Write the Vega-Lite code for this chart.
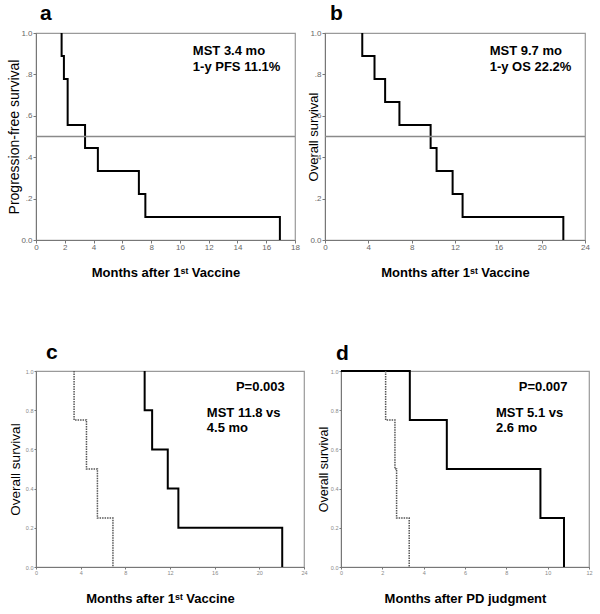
{
  "$schema": "https://vega.github.io/schema/vega-lite/v6.json",
  "background": "white",
  "padding": {"left": 6, "top": 2, "right": 0, "bottom": 0},
  "config": {
    "font": "Liberation Sans",
    "view": {"stroke": "#9a9a9a", "strokeWidth": 1.2},
    "axis": {"grid": false, "domainColor": "#777", "tickColor": "#777", "tickSize": 3, "labelColor": "#666", "labelFont": "Liberation Sans", "labelOverlap": false, "labelBound": false, "labelFlush": false, "titleColor": "#000", "titleFont": "Liberation Sans", "titleBaseline": "middle"},
    "title": {"font": "Liberation Sans", "fontSize": 21, "fontWeight": "bold", "anchor": "start", "frame": "group", "baseline": "alphabetic", "color": "#000"}
  },
  "datasets": {
    "km": [
      {"panel": "a", "group": "all", "i": 0, "t": 1.78, "s": 1.0},
      {"panel": "a", "group": "all", "i": 1, "t": 1.78, "s": 0.889},
      {"panel": "a", "group": "all", "i": 2, "t": 1.94, "s": 0.778},
      {"panel": "a", "group": "all", "i": 3, "t": 2.2, "s": 0.556},
      {"panel": "a", "group": "all", "i": 4, "t": 3.41, "s": 0.444},
      {"panel": "a", "group": "all", "i": 5, "t": 4.3, "s": 0.333},
      {"panel": "a", "group": "all", "i": 6, "t": 7.15, "s": 0.222},
      {"panel": "a", "group": "all", "i": 7, "t": 7.6, "s": 0.111},
      {"panel": "a", "group": "all", "i": 8, "t": 16.95, "s": 0.0},
      {"panel": "b", "group": "all", "i": 0, "t": 3.44, "s": 1.0},
      {"panel": "b", "group": "all", "i": 1, "t": 3.44, "s": 0.889},
      {"panel": "b", "group": "all", "i": 2, "t": 4.57, "s": 0.778},
      {"panel": "b", "group": "all", "i": 3, "t": 5.55, "s": 0.667},
      {"panel": "b", "group": "all", "i": 4, "t": 6.87, "s": 0.556},
      {"panel": "b", "group": "all", "i": 5, "t": 9.75, "s": 0.444},
      {"panel": "b", "group": "all", "i": 6, "t": 10.3, "s": 0.333},
      {"panel": "b", "group": "all", "i": 7, "t": 11.78, "s": 0.222},
      {"panel": "b", "group": "all", "i": 8, "t": 12.7, "s": 0.111},
      {"panel": "b", "group": "all", "i": 9, "t": 22.0, "s": 0.0},
      {"panel": "c", "group": "solid", "i": 0, "t": 9.73, "s": 1.0},
      {"panel": "c", "group": "solid", "i": 1, "t": 9.73, "s": 0.8},
      {"panel": "c", "group": "solid", "i": 2, "t": 10.4, "s": 0.6},
      {"panel": "c", "group": "solid", "i": 3, "t": 11.8, "s": 0.4},
      {"panel": "c", "group": "solid", "i": 4, "t": 12.75, "s": 0.2},
      {"panel": "c", "group": "solid", "i": 5, "t": 22.05, "s": 0.0},
      {"panel": "c", "group": "dotted", "i": 0, "t": 3.41, "s": 1.0},
      {"panel": "c", "group": "dotted", "i": 1, "t": 3.41, "s": 0.75},
      {"panel": "c", "group": "dotted", "i": 2, "t": 4.52, "s": 0.5},
      {"panel": "c", "group": "dotted", "i": 3, "t": 5.5, "s": 0.25},
      {"panel": "c", "group": "dotted", "i": 4, "t": 6.89, "s": 0.0},
      {"panel": "d", "group": "solid", "i": 0, "t": 0.0, "s": 1.0},
      {"panel": "d", "group": "solid", "i": 1, "t": 3.33, "s": 0.75},
      {"panel": "d", "group": "solid", "i": 2, "t": 5.12, "s": 0.5},
      {"panel": "d", "group": "solid", "i": 3, "t": 9.65, "s": 0.25},
      {"panel": "d", "group": "solid", "i": 4, "t": 10.79, "s": 0.0},
      {"panel": "d", "group": "dotted", "i": 0, "t": 2.16, "s": 1.0},
      {"panel": "d", "group": "dotted", "i": 1, "t": 2.16, "s": 0.75},
      {"panel": "d", "group": "dotted", "i": 2, "t": 2.61, "s": 0.5},
      {"panel": "d", "group": "dotted", "i": 3, "t": 2.69, "s": 0.25},
      {"panel": "d", "group": "dotted", "i": 4, "t": 3.3, "s": 0.0}
    ],
    "notes": [
      {"panel": "a", "x": 10.9, "y": 0.913, "label": "MST 3.4 mo"},
      {"panel": "a", "x": 10.9, "y": 0.836, "label": "1-y PFS 11.1%"},
      {"panel": "b", "x": 15.2, "y": 0.913, "label": "MST 9.7 mo"},
      {"panel": "b", "x": 15.2, "y": 0.836, "label": "1-y OS 22.2%"},
      {"panel": "c", "x": 17.9, "y": 0.918, "label": "P=0.003"},
      {"panel": "c", "x": 15.3, "y": 0.786, "label": "MST 11.8 vs"},
      {"panel": "c", "x": 15.3, "y": 0.709, "label": "4.5 mo"},
      {"panel": "d", "x": 8.6, "y": 0.918, "label": "P=0.007"},
      {"panel": "d", "x": 7.5, "y": 0.786, "label": "MST 5.1 vs"},
      {"panel": "d", "x": 7.5, "y": 0.709, "label": "2.6 mo"}
    ]
  },
  "bounds": "flush",
  "spacing": 338,
  "vconcat": [
    {
      "bounds": "flush",
      "spacing": 30,
      "hconcat": [
        {
          "width": 259, "height": 207,
          "title": {"text": "a", "dx": 4, "offset": 5},
          "layer": [
            {
              "data": {"name": "km"},
              "transform": [{"filter": "datum.panel == 'a'"}],
              "mark": {"type": "line", "interpolate": "step-after", "color": "#000", "strokeWidth": 2},
              "encoding": {
                "x": {"field": "t", "type": "quantitative", "scale": {"domain": [0, 18], "nice": false},
                  "axis": {"values": [0, 2, 4, 6, 8, 10, 12, 14, 16, 18], "format": "d", "labelOverlap": false, "labelFontSize": 8, "labelPadding": 0, "title": "Months after 1ˢᵗ  Vaccine", "titleFontSize": 13, "titleFontWeight": "bold", "titleY": 32}},
                "y": {"field": "s", "type": "quantitative", "scale": {"domain": [0, 1], "nice": false},
                  "axis": {"values": [0, 0.2, 0.4, 0.6, 0.8, 1], "labelOverlap": false, "labelExpr": "datum.value == 0 ? '0.0' : datum.value == 1 ? '1.0' : replace(format(datum.value, '.1f'), '0.', '.')", "labelFontSize": 8, "labelPadding": 1, "title": "Progression-free survival", "titleFontSize": 14, "titleFontWeight": "normal", "titleX": -22}},
                "order": {"field": "i", "type": "quantitative"}
              }
            },
            {
              "data": {"values": [{}]},
              "mark": {"type": "rule", "color": "#8a8a8a", "strokeWidth": 1.5},
              "encoding": {"y": {"datum": 0.5, "type": "quantitative",
                  "axis": {"values": [0, 0.2, 0.4, 0.6, 0.8, 1], "labelOverlap": false, "labelExpr": "datum.value == 0 ? '0.0' : datum.value == 1 ? '1.0' : replace(format(datum.value, '.1f'), '0.', '.')", "labelFontSize": 8, "labelPadding": 1, "title": "Progression-free survival", "titleFontSize": 14, "titleFontWeight": "normal", "titleX": -22}}}
            },
            {
              "data": {"name": "notes"},
              "transform": [{"filter": "datum.panel == 'a'"}],
              "mark": {"type": "text", "align": "left", "baseline": "middle", "fontSize": 13, "fontWeight": "bold", "color": "#000"},
              "encoding": {
                "x": {"field": "x", "type": "quantitative",
                  "axis": {"values": [0, 2, 4, 6, 8, 10, 12, 14, 16, 18], "format": "d", "labelOverlap": false, "labelFontSize": 8, "labelPadding": 0, "title": "Months after 1ˢᵗ  Vaccine", "titleFontSize": 13, "titleFontWeight": "bold", "titleY": 32}},
                "y": {"field": "y", "type": "quantitative",
                  "axis": {"values": [0, 0.2, 0.4, 0.6, 0.8, 1], "labelOverlap": false, "labelExpr": "datum.value == 0 ? '0.0' : datum.value == 1 ? '1.0' : replace(format(datum.value, '.1f'), '0.', '.')", "labelFontSize": 8, "labelPadding": 1, "title": "Progression-free survival", "titleFontSize": 14, "titleFontWeight": "normal", "titleX": -22}},
                "text": {"field": "label"}}
            }
          ]
        },
        {
          "width": 260, "height": 207,
          "title": {"text": "b", "dx": 5, "offset": 5},
          "layer": [
            {
              "data": {"name": "km"},
              "transform": [{"filter": "datum.panel == 'b'"}],
              "mark": {"type": "line", "interpolate": "step-after", "color": "#000", "strokeWidth": 2},
              "encoding": {
                "x": {"field": "t", "type": "quantitative", "scale": {"domain": [0, 24], "nice": false},
                  "axis": {"values": [0, 4, 8, 12, 16, 20, 24], "format": "d", "labelOverlap": false, "labelFontSize": 8, "labelPadding": 0, "title": "Months after 1ˢᵗ  Vaccine", "titleFontSize": 13, "titleFontWeight": "bold", "titleY": 32}},
                "y": {"field": "s", "type": "quantitative", "scale": {"domain": [0, 1], "nice": false},
                  "axis": {"values": [0, 0.2, 0.4, 0.6, 0.8, 1], "labelOverlap": false, "labelExpr": "datum.value == 0 ? '0.0' : datum.value == 1 ? '1.0' : replace(format(datum.value, '.1f'), '0.', '.')", "labelFontSize": 8, "labelPadding": 1, "title": "Overall survival", "titleFontSize": 13, "titleFontWeight": "normal", "titleX": -12}},
                "order": {"field": "i", "type": "quantitative"}
              }
            },
            {
              "data": {"values": [{}]},
              "mark": {"type": "rule", "color": "#8a8a8a", "strokeWidth": 1.5},
              "encoding": {"y": {"datum": 0.5, "type": "quantitative",
                  "axis": {"values": [0, 0.2, 0.4, 0.6, 0.8, 1], "labelOverlap": false, "labelExpr": "datum.value == 0 ? '0.0' : datum.value == 1 ? '1.0' : replace(format(datum.value, '.1f'), '0.', '.')", "labelFontSize": 8, "labelPadding": 1, "title": "Overall survival", "titleFontSize": 13, "titleFontWeight": "normal", "titleX": -12}}}
            },
            {
              "data": {"name": "notes"},
              "transform": [{"filter": "datum.panel == 'b'"}],
              "mark": {"type": "text", "align": "left", "baseline": "middle", "fontSize": 13, "fontWeight": "bold", "color": "#000"},
              "encoding": {
                "x": {"field": "x", "type": "quantitative",
                  "axis": {"values": [0, 4, 8, 12, 16, 20, 24], "format": "d", "labelOverlap": false, "labelFontSize": 8, "labelPadding": 0, "title": "Months after 1ˢᵗ  Vaccine", "titleFontSize": 13, "titleFontWeight": "bold", "titleY": 32}},
                "y": {"field": "y", "type": "quantitative",
                  "axis": {"values": [0, 0.2, 0.4, 0.6, 0.8, 1], "labelOverlap": false, "labelExpr": "datum.value == 0 ? '0.0' : datum.value == 1 ? '1.0' : replace(format(datum.value, '.1f'), '0.', '.')", "labelFontSize": 8, "labelPadding": 1, "title": "Overall survival", "titleFontSize": 13, "titleFontWeight": "normal", "titleX": -12}},
                "text": {"field": "label"}}
            }
          ]
        }
      ]
    },
    {
      "bounds": "flush",
      "spacing": 37,
      "hconcat": [
        {
          "width": 268, "height": 196,
          "title": {"text": "c", "dx": 10, "offset": 4},
          "layer": [
            {
              "data": {"name": "km"},
              "transform": [{"filter": "datum.panel == 'c'"}],
              "mark": {"type": "line", "interpolate": "step-after", "color": "#000"},
              "encoding": {
                "x": {"field": "t", "type": "quantitative", "scale": {"domain": [0, 24], "nice": false},
                  "axis": {"values": [0, 4, 8, 12, 16, 20, 24], "format": "d", "labelOverlap": false, "labelFontSize": 5.5, "labelColor": "#888", "labelPadding": 1, "tickSize": 2, "title": "Months after 1ˢᵗ  Vaccine", "titleFontSize": 13, "titleFontWeight": "bold", "titleY": 31, "titleX": 124}},
                "y": {"field": "s", "type": "quantitative", "scale": {"domain": [0, 1], "nice": false},
                  "axis": {"values": [0, 0.2, 0.4, 0.6, 0.8, 1], "format": ".1f", "labelOverlap": false, "labelFontSize": 5.5, "labelColor": "#888", "labelPadding": 1, "tickSize": 2, "title": "Overall survival", "titleFontSize": 13.5, "titleFontWeight": "normal", "titleX": -21}},
                "order": {"field": "i", "type": "quantitative"},
                "strokeDash": {"field": "group", "type": "nominal", "scale": {"domain": ["solid", "dotted"], "range": [[1, 0], [1.5, 1]]}, "legend": null},
                "strokeWidth": {"field": "group", "type": "nominal", "scale": {"domain": ["solid", "dotted"], "range": [2, 1.5]}, "legend": null},
                "color": {"field": "group", "type": "nominal", "scale": {"domain": ["solid", "dotted"], "range": ["#000", "#555"]}, "legend": null}
              }
            },
            {
              "data": {"name": "notes"},
              "transform": [{"filter": "datum.panel == 'c'"}],
              "mark": {"type": "text", "align": "left", "baseline": "middle", "fontSize": 13, "fontWeight": "bold", "color": "#000"},
              "encoding": {
                "x": {"field": "x", "type": "quantitative",
                  "axis": {"values": [0, 4, 8, 12, 16, 20, 24], "format": "d", "labelOverlap": false, "labelFontSize": 5.5, "labelColor": "#888", "labelPadding": 1, "tickSize": 2, "title": "Months after 1ˢᵗ  Vaccine", "titleFontSize": 13, "titleFontWeight": "bold", "titleY": 31, "titleX": 124}},
                "y": {"field": "y", "type": "quantitative",
                  "axis": {"values": [0, 0.2, 0.4, 0.6, 0.8, 1], "format": ".1f", "labelOverlap": false, "labelFontSize": 5.5, "labelColor": "#888", "labelPadding": 1, "tickSize": 2, "title": "Overall survival", "titleFontSize": 13.5, "titleFontWeight": "normal", "titleX": -21}},
                "text": {"field": "label"}}
            }
          ]
        },
        {
          "width": 248, "height": 196,
          "title": {"text": "d", "dx": -5, "offset": 3},
          "layer": [
            {
              "data": {"name": "km"},
              "transform": [{"filter": "datum.panel == 'd'"}],
              "mark": {"type": "line", "interpolate": "step-after", "color": "#000"},
              "encoding": {
                "x": {"field": "t", "type": "quantitative", "scale": {"domain": [0, 12], "nice": false},
                  "axis": {"values": [0, 2, 4, 6, 8, 10, 12], "format": "d", "labelOverlap": false, "labelFontSize": 5.5, "labelColor": "#888", "labelPadding": 1, "tickSize": 2, "title": "Months after PD judgment", "titleFontSize": 13, "titleFontWeight": "bold", "titleY": 31}},
                "y": {"field": "s", "type": "quantitative", "scale": {"domain": [0, 1], "nice": false},
                  "axis": {"values": [0, 0.2, 0.4, 0.6, 0.8, 1], "format": ".1f", "labelOverlap": false, "labelFontSize": 5.5, "labelColor": "#888", "labelPadding": 1, "tickSize": 2, "title": "Overall survival", "titleFontSize": 12.5, "titleFontWeight": "normal", "titleX": -18}},
                "order": {"field": "i", "type": "quantitative"},
                "strokeDash": {"field": "group", "type": "nominal", "scale": {"domain": ["solid", "dotted"], "range": [[1, 0], [1.5, 1]]}, "legend": null},
                "strokeWidth": {"field": "group", "type": "nominal", "scale": {"domain": ["solid", "dotted"], "range": [2, 1.5]}, "legend": null},
                "color": {"field": "group", "type": "nominal", "scale": {"domain": ["solid", "dotted"], "range": ["#000", "#555"]}, "legend": null}
              }
            },
            {
              "data": {"name": "notes"},
              "transform": [{"filter": "datum.panel == 'd'"}],
              "mark": {"type": "text", "align": "left", "baseline": "middle", "fontSize": 13, "fontWeight": "bold", "color": "#000"},
              "encoding": {
                "x": {"field": "x", "type": "quantitative",
                  "axis": {"values": [0, 2, 4, 6, 8, 10, 12], "format": "d", "labelOverlap": false, "labelFontSize": 5.5, "labelColor": "#888", "labelPadding": 1, "tickSize": 2, "title": "Months after PD judgment", "titleFontSize": 13, "titleFontWeight": "bold", "titleY": 31}},
                "y": {"field": "y", "type": "quantitative",
                  "axis": {"values": [0, 0.2, 0.4, 0.6, 0.8, 1], "format": ".1f", "labelOverlap": false, "labelFontSize": 5.5, "labelColor": "#888", "labelPadding": 1, "tickSize": 2, "title": "Overall survival", "titleFontSize": 12.5, "titleFontWeight": "normal", "titleX": -18}},
                "text": {"field": "label"}}
            }
          ]
        }
      ]
    }
  ]
}
